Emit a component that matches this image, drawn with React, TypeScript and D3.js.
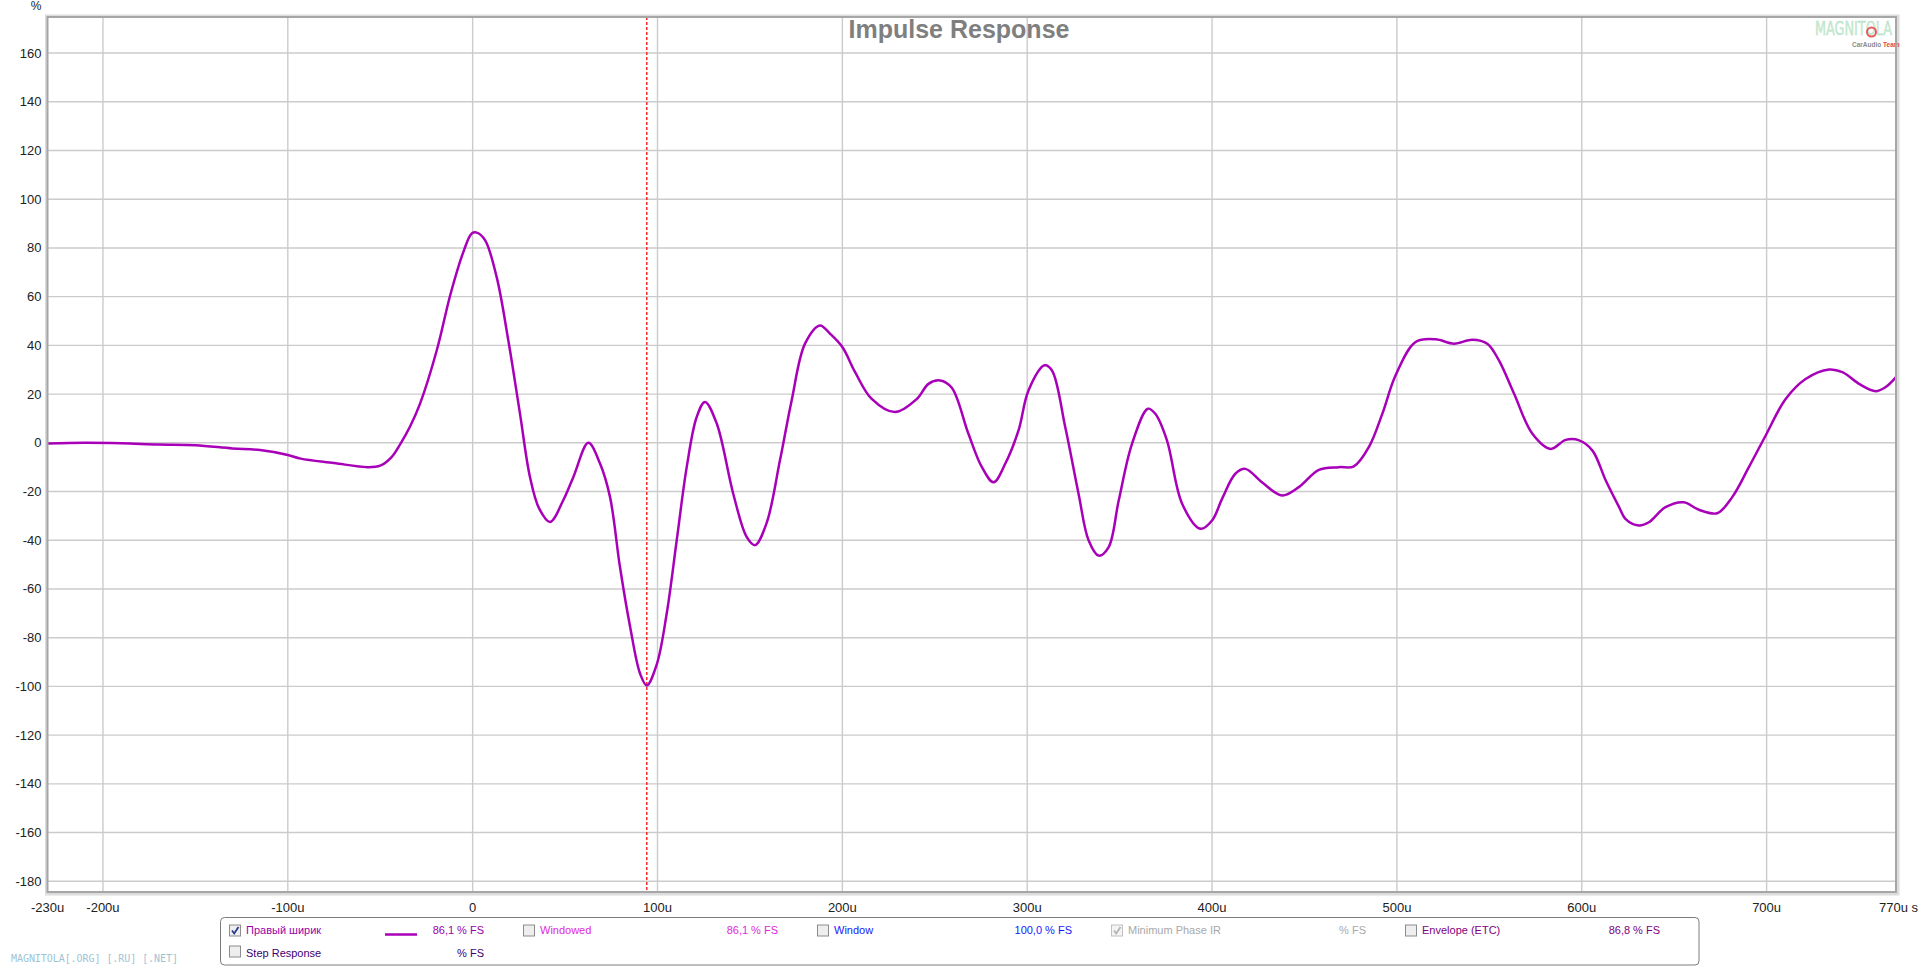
import { useRef, useEffect } from "react";
import * as d3 from "d3";

// time axis in microseconds, response in % FS
const timeUs = [
  -230, -210, -190, -170, -150, -130, -115, -100, -93, -75, -57, -50, -44, -39, -34, -28.5,
  -19.4, -12, -5, -0.5, 2.2, 6.7, 13, 19.3, 25.6, 31, 36, 41.9, 49, 54.5, 62.6, 68.9, 74.3,
  79.7, 85.2, 90.6, 94.2, 99.6, 105, 110.4, 115.8, 121.2, 125.7, 132, 141, 148.3, 152.8, 159,
  166.3, 172.6, 179.8, 187.9, 193.3, 200, 206.9, 215.9, 228.5, 240.3, 246.6, 252.9, 259.2,
  268.2, 275.5, 281.8, 288.1, 295.3, 300.7, 309.4, 313.4, 320.6, 327.8, 333.2, 338.6, 344,
  349.5, 356.7, 365.3, 369.3, 375.6, 383.8, 393.7, 400, 405.4, 412.6, 418, 427, 437.9, 446.9,
  457.8, 468.6, 476.7, 484.8, 492.1, 499.3, 510.1, 520.9, 530.9, 540.8, 548.9, 555.2, 563.4,
  573.3, 583.2, 591.3, 598.6, 605.8, 613, 620.2, 623.6, 630.9, 636.3, 645.3, 655.2, 663.4,
  673.3, 681.4, 690.4, 699.5, 710.3, 721.1, 733.8, 741, 750, 759, 764.4, 770,
];
const percentFS = [
  -0.3, 0, -0.2, -0.7, -1, -2.3, -3, -5, -6.5, -8.3, -10, -9.4, -6, -0.3, 6.5, 16, 38, 61,
  78.4, 85.9, 86.3, 83.2, 68, 42, 12, -14, -27, -32.5, -23.6, -14, 0, -8.5, -22.2, -51, -75.6,
  -94.8, -99.6, -91, -70, -40, -10, 10.6, 16.8, 8, -21, -38.7, -42, -33, -7, 17.5, 40.7,
  48.2, 44.8, 39.3, 29, 18, 12.6, 18, 24.2, 25.6, 22.6, 3.7, -10, -16.2, -8.6, 5.1, 21.5, 31.8,
  29.7, 6.4, -21, -40, -46.3, -42.9, -23.7, -0.4, 14, 11.9, 1, -25, -35.3, -31.9, -23, -12.7,
  -10.7, -16.2, -21.6, -18.2, -11.1, -10, -9.7, -1.8, 11.9, 27.7, 41.4, 42.5, 40.7, 42.3, 40.7,
  33.8, 20.1, 3.7, -2.5, 1.2, 1, -3.2, -15.5, -26.4, -31.2, -33.9, -32.6, -26.4, -24.4, -27.5,
  -28.9, -22.3, -10, 3, 18, 26.2, 30.1, 29, 24.2, 21.2, 22.9, 27,
];

const yTicks = [160, 140, 120, 100, 80, 60, 40, 20, 0, -20, -40, -60, -80, -100, -120, -140, -160, -180];
const xTicks = [-230, -200, -100, 0, 100, 200, 300, 400, 500, 600, 700, 770];
const xTickLabels = ["-230u", "-200u", "-100u", "0", "100u", "200u", "300u", "400u", "500u", "600u", "700u", "770u s"];
const markerUs = 94.2;

const legendNames = ["Правый ширик", "Windowed", "Window", "Minimum Phase IR", "Envelope (ETC)"];
const legendValues = ["86,1 % FS", "86,1 % FS", "100,0 % FS", "% FS", "86,8 % FS"];
const legendColors = ["#9a00aa", "#e028e0", "#1818ff", "#a8a8a8", "#800080"];
const legendChecked = [true, false, false, true, false];

const W = 1920;
const H = 967;
const FONT = "'Liberation Sans', Arial, sans-serif";

export default function App() {
  const ref = useRef<SVGSVGElement>(null);

  useEffect(() => {
    if (!ref.current) return;
    const svg = d3.select(ref.current);
    svg.selectAll("*").remove();

    const left = 47.5;
    const right = 1896;
    const top = 17;
    const bottom = 892;

    const x = d3.scaleLinear().domain([-230, 770]).range([left, right]);
    const y = d3.scaleLinear().domain([-184.4, 174.8]).range([bottom, top]);

    svg.append("rect").attr("width", W).attr("height", H).attr("fill", "#fff");

    // frame shadow
    svg
      .append("rect")
      .attr("x", left - 1)
      .attr("y", top - 1)
      .attr("width", right - left + 3)
      .attr("height", bottom - top + 3)
      .attr("fill", "none")
      .attr("stroke", "#dcdcdc")
      .attr("stroke-width", 3);

    // grid
    const grid = svg.append("g");
    grid
      .selectAll("line.h")
      .data(yTicks)
      .join("line")
      .attr("x1", left)
      .attr("x2", right)
      .attr("y1", (d) => y(d))
      .attr("y2", (d) => y(d))
      .attr("stroke", "#cbcbcb")
      .attr("stroke-width", 1.4);
    grid
      .selectAll("line.v")
      .data(xTicks.filter((d) => d > -230 && d < 770))
      .join("line")
      .attr("x1", (d) => x(d))
      .attr("x2", (d) => x(d))
      .attr("y1", top)
      .attr("y2", bottom)
      .attr("stroke", "#cbcbcb")
      .attr("stroke-width", 1.4);

    // logo
    const logo = svg.append("g");
    logo
      .append("text")
      .attr("x", 1815)
      .attr("y", 35)
      .attr("font-family", "'DejaVu Sans Condensed', 'Liberation Sans Narrow', sans-serif")
      .attr("font-size", 20)
      .attr("textLength", 77)
      .attr("lengthAdjust", "spacingAndGlyphs")
      .attr("fill", "#c6ecd2")
      .attr("stroke", "#b4dcc2")
      .attr("stroke-width", 0.4)
      .text("MAGNITOLA");
    logo
      .append("circle")
      .attr("cx", 1871.5)
      .attr("cy", 32)
      .attr("r", 4.5)
      .attr("fill", "none")
      .attr("stroke", "#e85a5a")
      .attr("stroke-width", 2);
    logo
      .append("text")
      .attr("x", 1852)
      .attr("y", 47)
      .attr("font-family", FONT)
      .attr("font-weight", "bold")
      .attr("font-size", 6.5)
      .attr("fill", "#8c8c8c")
      .text("CarAudio")
      .append("tspan")
      .attr("fill", "#e04848")
      .text(" Team");

    // title
    svg
      .append("text")
      .attr("x", 959)
      .attr("y", 37.5)
      .attr("text-anchor", "middle")
      .attr("font-family", FONT)
      .attr("font-weight", "bold")
      .attr("font-size", 25)
      .attr("fill", "#7f7f7f")
      .text("Impulse Response");

    // marker
    svg
      .append("line")
      .attr("x1", x(markerUs))
      .attr("x2", x(markerUs))
      .attr("y1", top)
      .attr("y2", bottom)
      .attr("stroke", "#ff1a1a")
      .attr("stroke-width", 1.4)
      .attr("stroke-dasharray", "3,2");

    // curve
    svg.append("clipPath").attr("id", "plotclip").append("rect")
      .attr("x", left).attr("y", top).attr("width", right - left).attr("height", bottom - top);
    const pts = timeUs.map((t, i) => [t, percentFS[i]] as [number, number]);
    const line = d3
      .line<[number, number]>()
      .x((d) => x(d[0]))
      .y((d) => y(d[1]))
      .curve(d3.curveCatmullRom.alpha(0.5));
    svg
      .append("path")
      .datum(pts)
      .attr("clip-path", "url(#plotclip)")
      .attr("fill", "none")
      .attr("stroke", "#a800b8")
      .attr("stroke-width", 2.5)
      .attr("stroke-linejoin", "round")
      .attr("d", line);

    // frame
    svg
      .append("rect")
      .attr("x", left)
      .attr("y", top)
      .attr("width", right - left)
      .attr("height", bottom - top)
      .attr("fill", "none")
      .attr("stroke", "#a6a6a6")
      .attr("stroke-width", 2);

    // y labels
    svg
      .append("g")
      .selectAll("text")
      .data(yTicks)
      .join("text")
      .attr("x", 41.5)
      .attr("y", (d) => y(d) + 4.5)
      .attr("text-anchor", "end")
      .attr("font-family", FONT)
      .attr("font-size", 13)
      .attr("fill", "#222")
      .text((d) => String(d));
    svg
      .append("text")
      .attr("x", 41.5)
      .attr("y", 10)
      .attr("text-anchor", "end")
      .attr("font-family", FONT)
      .attr("font-size", 12)
      .attr("fill", "#222")
      .text("%");

    // x labels
    svg
      .append("g")
      .selectAll("text")
      .data(xTicks)
      .join("text")
      .attr("x", (d, i) => (i === xTicks.length - 1 ? x(d) - 17 : x(d)))
      .attr("y", 911.5)
      .attr("text-anchor", (d, i) => (i === xTicks.length - 1 ? "start" : "middle"))
      .attr("font-family", FONT)
      .attr("font-size", 13)
      .attr("fill", "#222")
      .text((d, i) => xTickLabels[i]);

    // legend box
    const lg = svg.append("g").attr("font-family", FONT).attr("font-size", 11);
    lg.append("rect")
      .attr("x", 220.5)
      .attr("y", 917.5)
      .attr("width", 1478.5)
      .attr("height", 47.5)
      .attr("rx", 4)
      .attr("fill", "#fff")
      .attr("stroke", "#7c7c7c")
      .attr("stroke-width", 1);

    const colStep = 294;
    const box = (bx: number, by: number, checked: boolean, disabled: boolean) => {
      lg.append("rect")
        .attr("x", bx + 0.5)
        .attr("y", by + 0.5)
        .attr("width", 11)
        .attr("height", 11)
        .attr("fill", disabled ? "#f4f4f4" : "#eeeeee")
        .attr("stroke", disabled ? "#c0c0c0" : "#8c8c8c");
      if (checked) {
        lg.append("path")
          .attr("d", `M${bx + 3},${by + 6} L${bx + 5.2},${by + 9} L${bx + 9.5},${by + 2.5}`)
          .attr("fill", "none")
          .attr("stroke", disabled ? "#b4b4b4" : "#2a3a90")
          .attr("stroke-width", 1.8);
      }
    };

    legendNames.forEach((name, i) => {
      const cx = 229 + i * colStep;
      box(cx, 924.5, legendChecked[i], i === 3);
      lg.append("text")
        .attr("x", cx + 17)
        .attr("y", 933.5)
        .attr("fill", legendColors[i])
        .text(name);
      lg.append("text")
        .attr("x", 484 + i * colStep)
        .attr("y", 933.5)
        .attr("text-anchor", "end")
        .attr("fill", legendColors[i])
        .text(legendValues[i]);
    });
    lg.append("line")
      .attr("x1", 385)
      .attr("x2", 417)
      .attr("y1", 934.5)
      .attr("y2", 934.5)
      .attr("stroke", "#a800b8")
      .attr("stroke-width", 2.5);

    box(229, 945.5, false, false);
    lg.append("text").attr("x", 246).attr("y", 956.5).attr("fill", "#3c0070").text("Step Response");
    lg.append("text")
      .attr("x", 484)
      .attr("y", 956.5)
      .attr("text-anchor", "end")
      .attr("fill", "#3c0070")
      .text("% FS");

    // watermark
    svg
      .append("text")
      .attr("x", 11)
      .attr("y", 961.5)
      .attr("font-family", "'DejaVu Sans Mono', monospace")
      .attr("font-size", 10)
      .attr("textLength", 167)
      .attr("fill", "#9ec4d4")
      .text("MAGNITOLA[.ORG] [.RU] [.NET]");
  }, []);

  return (
    <svg
      ref={ref}
      width={W}
      height={H}
      style={{ position: "absolute", left: 0, top: 0, display: "block" }}
    />
  );
}
